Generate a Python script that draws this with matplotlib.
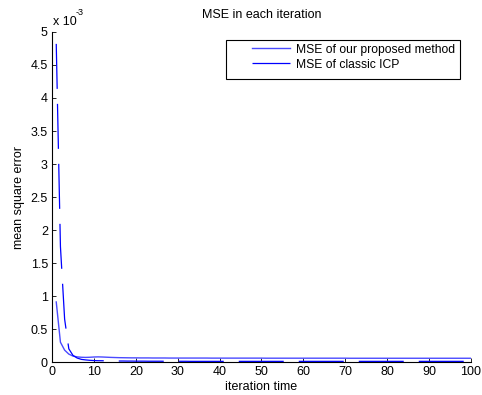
import numpy as np
import matplotlib
matplotlib.use("Agg")
import matplotlib.pyplot as plt
from matplotlib.patches import Rectangle

plt.rcParams['font.family'] = ['Liberation Sans', 'DejaVu Sans']
plt.rcParams['font.size'] = 9

# MSE values in units of 1e-3, iterations 1..100
iters = np.arange(1, 101)

mse_proposed = [
    0.91, 0.30, 0.18, 0.12, 0.090, 0.078, 0.072, 0.070, 0.072, 0.076,
    0.078, 0.076, 0.073, 0.070, 0.068, 0.066, 0.065, 0.064, 0.063, 0.063,
    0.062, 0.062, 0.062, 0.061, 0.061, 0.061, 0.061, 0.060, 0.060, 0.060,
    0.060, 0.060, 0.060, 0.060, 0.060, 0.060, 0.060, 0.059, 0.059, 0.059,
    0.059, 0.059, 0.059, 0.059, 0.059, 0.059, 0.059, 0.059, 0.059, 0.059,
    0.058, 0.058, 0.058, 0.058, 0.058, 0.058, 0.058, 0.058, 0.058, 0.058,
    0.058, 0.058, 0.058, 0.058, 0.058, 0.058, 0.058, 0.058, 0.058, 0.058,
    0.057, 0.057, 0.057, 0.057, 0.057, 0.057, 0.057, 0.057, 0.057, 0.057,
    0.057, 0.057, 0.057, 0.057, 0.057, 0.057, 0.057, 0.057, 0.057, 0.057,
    0.057, 0.057, 0.057, 0.057, 0.057, 0.057, 0.057, 0.057, 0.057, 0.057,
]

mse_classic = [
    4.82, 1.75, 0.65, 0.20, 0.10, 0.060, 0.040, 0.032, 0.026, 0.022,
    0.020, 0.019, 0.018, 0.017, 0.016, 0.015, 0.015, 0.014, 0.014, 0.013,
    0.013, 0.013, 0.012, 0.012, 0.012, 0.012, 0.011, 0.011, 0.011, 0.011,
    0.011, 0.011, 0.010, 0.010, 0.010, 0.010, 0.010, 0.010, 0.010, 0.010,
    0.010, 0.010, 0.010, 0.010, 0.010, 0.010, 0.010, 0.010, 0.010, 0.010,
    0.010, 0.010, 0.010, 0.010, 0.010, 0.010, 0.010, 0.010, 0.010, 0.010,
    0.010, 0.010, 0.010, 0.010, 0.010, 0.010, 0.010, 0.010, 0.010, 0.010,
    0.010, 0.010, 0.010, 0.010, 0.010, 0.010, 0.010, 0.010, 0.010, 0.010,
    0.010, 0.010, 0.010, 0.010, 0.010, 0.010, 0.010, 0.010, 0.010, 0.010,
    0.010, 0.010, 0.010, 0.010, 0.010, 0.010, 0.010, 0.010, 0.010, 0.010,
]

xticks = np.arange(0, 101, 10)
yticks = np.arange(0, 5.01, 0.5)
ytick_labels = ['0', '0.5', '1', '1.5', '2', '2.5', '3', '3.5', '4', '4.5', '5']

fig = plt.figure(figsize=(4.82, 3.95), dpi=100)
ax = fig.add_axes([0.108, 0.0835, 0.869, 0.8355])

ax.plot(iters, mse_proposed, color='#4a4aff', lw=1.0, label='MSE of our proposed method')
ax.plot(iters, mse_classic, color='#0000ff', lw=0.9, dashes=(36, 12),
        label='MSE of classic ICP')

ax.set_xlim(0, 100)
ax.set_ylim(0, 5)
ax.set_xticks(xticks)
ax.set_yticks(yticks)
ax.set_yticklabels(ytick_labels)
ax.tick_params(direction='in', length=3, width=0.6, pad=3, labelsize=9)
ax.spines['top'].set_visible(False)
ax.spines['right'].set_visible(False)
for s in ['left', 'bottom']:
    ax.spines[s].set_linewidth(0.8)

# exponent label in the MATLAB style
ax.text(0.002, 1.012, 'x 10', transform=ax.transAxes, fontsize=9,
        ha='left', va='bottom')
ax.text(0.057, 1.045, '-3', transform=ax.transAxes, fontsize=6.5,
        ha='left', va='bottom')

ax.set_title('MSE in each iteration', fontsize=9, pad=10)
ax.set_xlabel('iteration time', fontsize=9, labelpad=2)
ax.set_ylabel('mean square error', fontsize=9, labelpad=4)

# MATLAB-like legend box: wide left margin before the sample lines
ax.add_patch(Rectangle((0.415, 0.858), 0.559, 0.118, transform=ax.transAxes,
                       facecolor='white', edgecolor='black', lw=0.8, zorder=4))
leg = ax.legend(loc='upper right', bbox_to_anchor=(0.962, 0.965), fontsize=8.7,
                handlelength=3.2, handletextpad=0.45, frameon=False,
                borderpad=0, borderaxespad=0, labelspacing=0.25)
leg.set_zorder(5)

fig.savefig('out.png', dpi=100)
